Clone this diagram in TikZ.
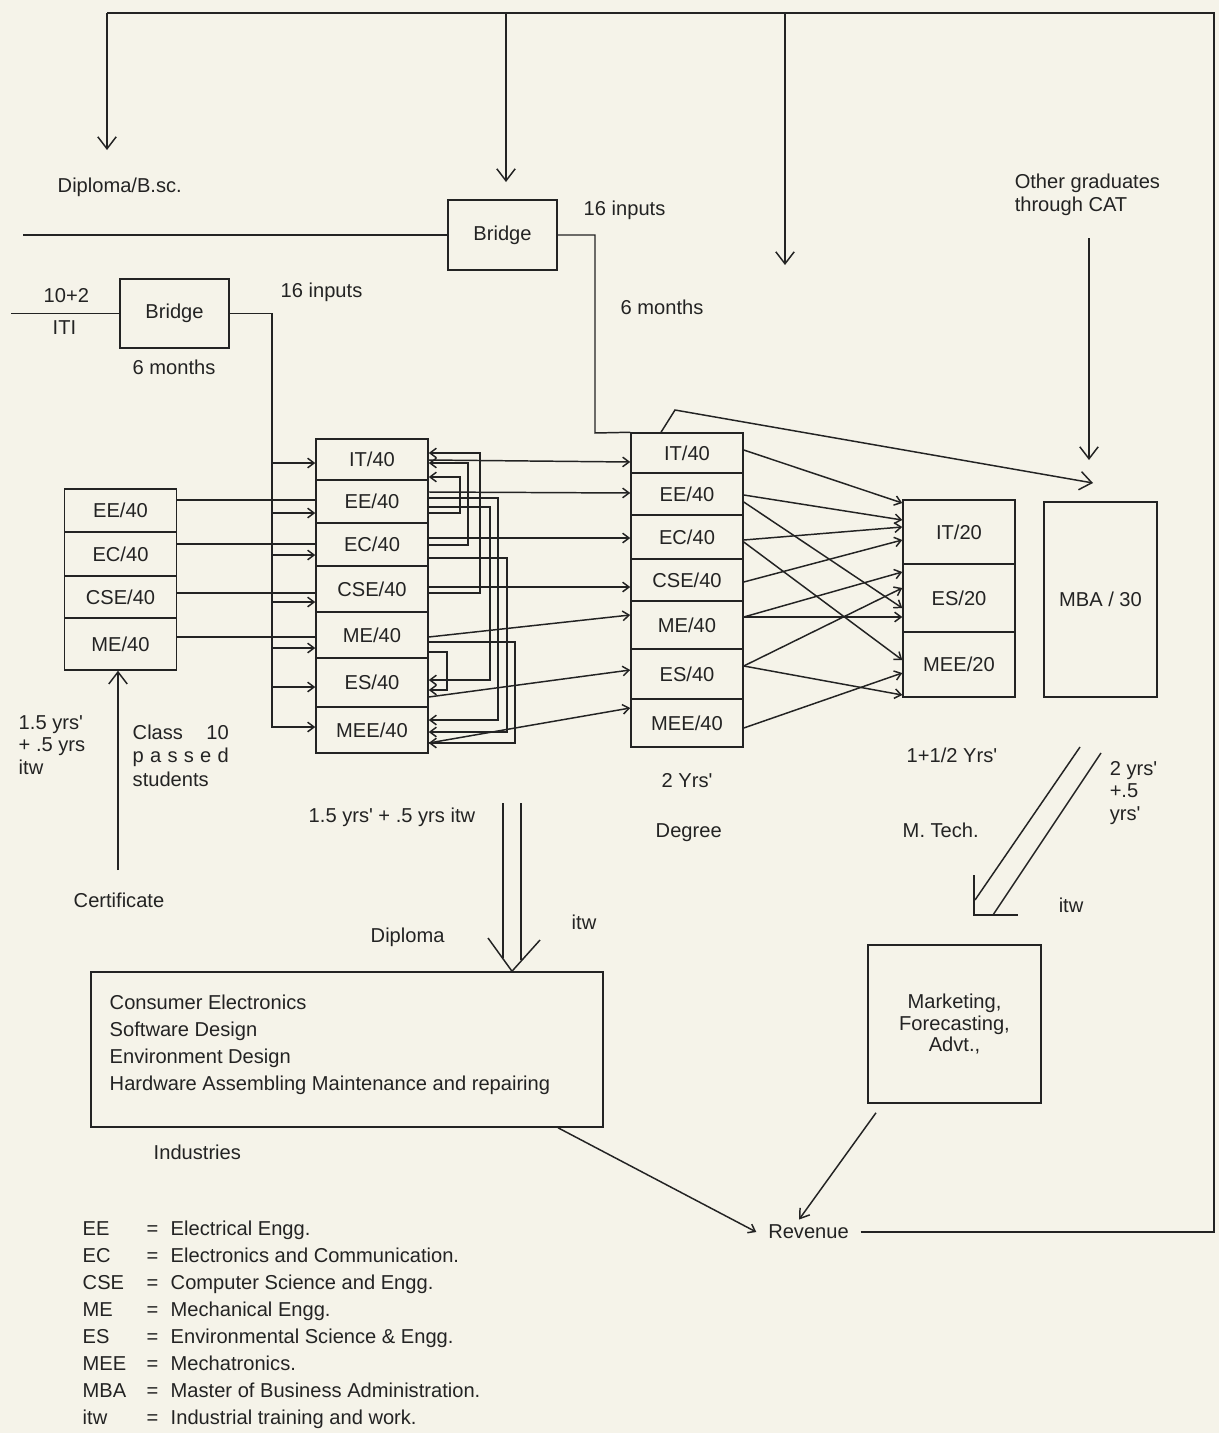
\documentclass[tikz,border=0pt]{standalone}
\usepackage{fontspec}
\setmainfont{Liberation Sans}
\usetikzlibrary{arrows.meta,calc}
\definecolor{ink}{RGB}{35,35,35}
\definecolor{paper}{RGB}{245,243,233}
\newcommand{\ap}{\textquotesingle}

\begin{document}
\begin{tikzpicture}[x=0.025cm, y=-0.025cm, color=ink, line width=1.05pt,
    >={Straight Barb[length=1.6mm,width=2.4mm]},
    every node/.style={font=\fontsize{14.3}{17}\selectfont},
    box/.style={draw, inner sep=0pt},
    cell/.style={box, minimum width=2.8cm},
    lbl/.style={anchor=base west, inner sep=0pt, yshift=-0.175cm},
    bigtip/.style={-{Straight Barb[length=3mm,width=4.6mm]}}]

    % paper
    \fill[paper] (0,0) rectangle (1219,1433);
    \useasboundingbox (0,0) rectangle (1219,1433);

    % columns of seats
    \foreach \n/\a/\b in {EE/489/532, EC/532/576, CSE/576/618, ME/618/670}
      {\pgfmathsetmacro\h{(\b-\a)*0.025}
       \node[cell, minimum height=\h cm] (l\n) at (120.5,{(\a+\b)/2}) {\n/40};}
    \foreach \n/\a/\b in {IT/439/480, EE/480/523, EC/523/566, CSE/566/612, ME/612/658, ES/658/707, MEE/707/753}
      {\pgfmathsetmacro\h{(\b-\a)*0.025}
       \node[cell, minimum height=\h cm] (p\n) at (372,{(\a+\b)/2}) {\n/40};}
    \foreach \n/\a/\b in {IT/433/473, EE/473/515, EC/515/559, CSE/559/601, ME/601/649, ES/649/699, MEE/699/747}
      {\pgfmathsetmacro\h{(\b-\a)*0.025}
       \node[cell, minimum height=\h cm] (g\n) at (687,{(\a+\b)/2}) {\n/40};}
    \foreach \n/\a/\b in {IT/500/564, ES/564/632, MEE/632/697}
      {\pgfmathsetmacro\h{(\b-\a)*0.025}
       \node[cell, minimum height=\h cm] (m\n) at (959,{(\a+\b)/2}) {\n/20};}

    % other boxes
    \node[box, minimum width=2.725cm, minimum height=1.75cm] (ubr) at (502.5,235) {Bridge};
    \node[box, minimum width=2.725cm, minimum height=1.725cm] (lbr) at (174.5,313.5) {Bridge};
    \node[box, minimum width=2.825cm, minimum height=4.875cm] (mba) at (1100.5,599.5) {MBA / 30};
    \node[box, minimum width=4.325cm, minimum height=3.95cm, align=center,
          font=\fontsize{14.3}{15.5}\selectfont] (mkt) at (954.5,1024) {Marketing,\\Forecasting,\\Advt.,};
    \node[box, minimum width=12.8cm, minimum height=3.875cm] (ind) at (347,1049.5) {};
    \node[lbl, align=left, font=\fontsize{14.3}{19.2}\selectfont] (indtxt) at (109,1083)
      {Consumer Electronics\\Software Design\\Environment Design\\Hardware Assembling Maintenance and repairing};
    \node[inner xsep=8pt] (rev) at (808.5,1232) {Revenue};

    % labels
    \node[lbl] (dipbsc) at (57,185) {Diploma/B.sc.};
    \node[lbl] (inup) at (583,208) {16 inputs};
    \node[lbl] (mthup) at (620,307) {6 months};
    \node[lbl, align=left, font=\fontsize{14.3}{16.3}\selectfont] (cat) at (1014,204) {Other graduates\\through CAT};
    \node[lbl] (tentwo) at (43,295) {10+2};
    \node[lbl] (iti) at (52,327) {ITI};
    \node[lbl] (inlow) at (280,290) {16 inputs};
    \node[lbl] (mthlow) at (132,367) {6 months};
    \node[lbl, align=left, font=\fontsize{14.3}{16}\selectfont] (certyrs) at (18,767) {1.5 yrs\ap\\+ .5 yrs\\itw};
    \node[lbl, align=left, font=\fontsize{14.3}{16.5}\selectfont] (cls) at (132,779)
      {\makebox[2.4cm][s]{Class\hfill 10}\\\makebox[2.4cm][s]{p\hfill a\hfill s\hfill s\hfill e\hfill d}\\students};
    \node[lbl] (cert) at (73,900) {Certificate};
    \node[lbl] (dipyrs) at (308,815) {1.5 yrs\ap{} + .5 yrs itw};
    \node[lbl] (dip) at (370,935) {Diploma};
    \node[lbl] (dipitw) at (571,922) {itw};
    \node[lbl] (indl) at (153,1152) {Industries};
    \node[lbl] (degyrs) at (661,780) {2 Yrs\ap};
    \node[lbl] (deg) at (655,830) {Degree};
    \node[lbl] (mtyrs) at (906,755) {1+1/2 Yrs\ap};
    \node[lbl] (mt) at (902,830) {M. Tech.};
    \node[lbl, align=left, font=\fontsize{14.3}{16}\selectfont] (mbayrs) at (1109,813) {2 yrs\ap\\+.5\\yrs\ap};
    \node[lbl] (mbaitw) at (1058,905) {itw};

    % abbreviations
    \foreach \a/\d [count=\i from 0] in {EE/Electrical Engg., EC/Electronics and Communication.,
        CSE/Computer Science and Engg., ME/Mechanical Engg., ES/Environmental Science \& Engg.,
        MEE/Mechatronics., MBA/Master of Business Administration., itw/Industrial training and work.}
      {\node[lbl] (k\i) at (82,{1228+27*\i}) {\a};
       \node[lbl] (q\i) at (146,{1228+27*\i}) {=};
       \node[lbl] (v\i) at (170,{1228+27*\i}) {\d};}

    % feedback loop from revenue
    \coordinate (tl) at (107,13);
    \coordinate (br) at (1214,1232);
    \draw (rev.east) -- (br) |- (tl);
    \draw[bigtip] (tl) -- (107,150);
    \draw[bigtip] (506,13) -- (506,182);
    \draw[bigtip] (785,13) -- (785,265);

    % bridges
    \draw (23,235) -- (ubr.west);
    \draw (ubr.east) -| (595,433) -- (gIT.north west);
    \draw (11,313.5) -- (lbr.west);
    \draw[->] (lbr.east) -| (272,727) -- (pMEE.west |- 0,727);
    \foreach \n/\y in {IT/463, EE/513, EC/555, CSE/602, ME/648, ES/687}
      \draw[->] (272,\y) -- (p\n.west |- 0,\y);

    % class 10 -> certificate
    \draw[bigtip] (118,870) -- (lME.south -| 118,0);
    \foreach \n/\y in {EE/500, EC/544, CSE/593, ME/637}
      \draw (l\n.east |- 0,\y) -- (p\n.west |- 0,\y);

    % diploma loops
    \draw[->] (pCSE.east |- 0,593) -| (480,453) -- (pIT.east |- 0,453);
    \draw[->] (pEC.east |- 0,545) -| (468,463) -- (pIT.east |- 0,463);
    \draw[->] (pEE.east |- 0,513) -| (460,477) -- (pIT.east |- 0,477);
    \draw[->] (pEE.east |- 0,507) -| (490,680) -- (pES.east |- 0,680);
    \draw[->] (pEE.east |- 0,498) -| (498,720) -- (pMEE.east |- 0,720);
    \draw[->] (pEC.east |- 0,558) -| (507,732) -- (pMEE.east |- 0,732);
    \draw[->] (pME.east |- 0,642) -| (515,743) -- (pMEE.east |- 0,743);
    \draw[->] (pME.east |- 0,652) -| (447,690) -- (pES.east |- 0,690);

    % diploma -> degree
    \foreach \n/\a/\b in {IT/460/462, EE/492/493, EC/538/538, CSE/587/587, ME/637/615, ES/697/670, MEE/743/708}
      \draw[->] (p\n.east |- 0,\a) -- (g\n.west |- 0,\b);

    % degree -> M. Tech.
    \foreach \s/\a/\t/\b in {IT/450/IT/503, EE/495/IT/520, EE/502/ES/608, EC/540/IT/527, EC/542/MEE/660,
        CSE/582/IT/540, ME/617/ES/572, ME/617/ES/617, ES/666/ES/588, ES/666/MEE/695, MEE/728/MEE/673}
      \draw[->] (g\s.east |- 0,\a) -- (m\t.west |- 0,\b);

    % degree -> MBA, CAT -> MBA
    \draw[bigtip] (gIT.north -| 661,0) -- (675,410) -- (1093,483);
    \draw[bigtip] (1089,238) -- (1089,460);

    % double arrows
    \draw (503,803) -- (503,958);
    \draw (521,803) -- (521,960);
    \draw (488,938) -- (ind.north -| 512,0) -- (540,940);
    \draw (1080,747) -- (975,900);
    \draw (1101,753) -- (993,915);
    \draw (974,875) -- (974,915) -- (1018,915);

    % to revenue
    \draw[->] (ind.south -| 558,0) -- (rev.west);
    \draw[-{Straight Barb[length=2.2mm,width=3mm]}] (mkt.south -| 876,0) ++(0,9) -- (rev.north -| 799,0);

\end{tikzpicture}
\end{document}
